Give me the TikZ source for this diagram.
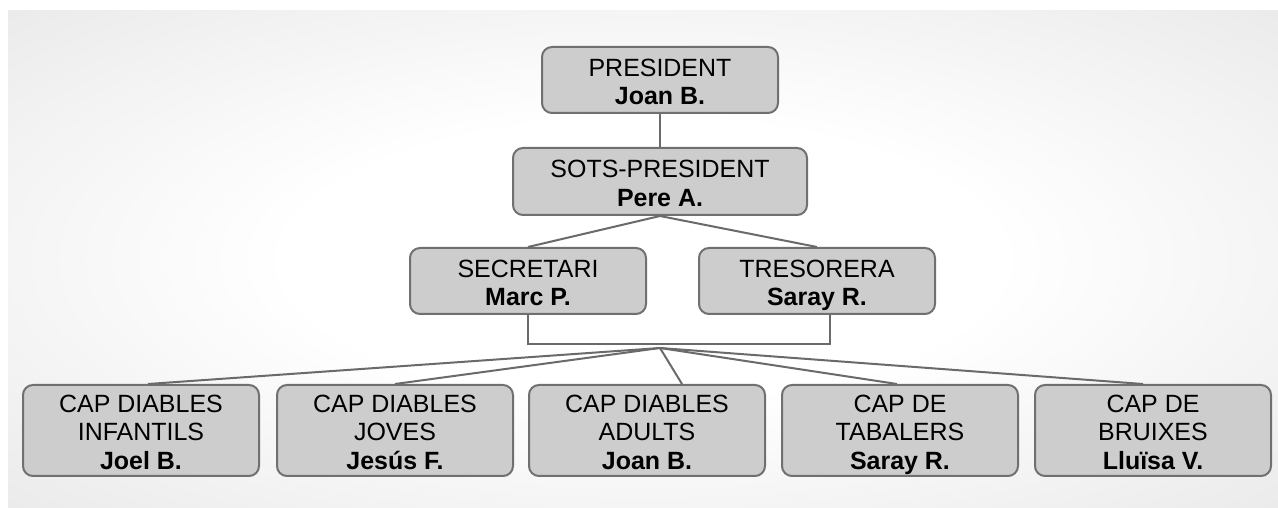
\documentclass[tikz,border=0pt]{standalone}
\usepackage{fontspec}
\setmainfont{Liberation Sans}
\definecolor{boxfill}{HTML}{CDCDCD}
\definecolor{boxline}{HTML}{707070}
\definecolor{wireline}{HTML}{6A6A6A}
\definecolor{bgmid}{HTML}{DDDDDD}
\definecolor{bgedge}{HTML}{D2D2D2}
\pgfdeclareradialshading{backglow}{\pgfpoint{0bp}{0bp}}{color(0bp)=(white); color(14bp)=(white); color(50bp)=(bgmid); color(72bp)=(bgedge)}
% invisible rule that lowers the first text line a little
\newcommand{\toprise}{\rule{0pt}{15.3pt}}

\begin{document}
\begin{tikzpicture} [scale=1.00]
  % make all path lines (box borders and wires) a little thicker
  \tikzstyle{every path}=[line width=0.04cm]
  \tikzstyle{post}=[rectangle, rounded corners=0.2cm, draw=boxline, fill=boxfill,
    minimum width=4.72cm, minimum height=1.32cm, inner sep=0pt, align=center,
    font=\fontsize{14.2}{16.3}\selectfont,
    execute at end node={\rule[-3.5pt]{0pt}{3.5pt}}]
  \tikzstyle{leader}=[post, minimum height=1.82cm]
  \tikzstyle{wire}=[draw=wireline]

  % page and shaded panel
  \fill[white] (0.00,0.00) rectangle (25.56,10.16);
  \shade[shading=backglow] (0.16,0.00) rectangle (25.56,9.94);

  % Draw the boxes
  \node [post] (pres) at (13.20, 8.56) {\toprise PRESIDENT\\\textbf{Joan B.}};
  \node [post, minimum width=5.88cm, minimum height=1.34cm] (sots) at (13.20, 6.53) {\toprise SOTS-PRESIDENT\\\textbf{Pere A.}};
  \node [post] (secr) at (10.56, 4.54) {\toprise SECRETARI\\\textbf{Marc P.}};
  \node [post] (tres) at (16.34, 4.54) {\toprise TRESORERA\\\textbf{Saray R.}};

  \node [leader] (infa) at ( 2.82, 1.55) {\toprise CAP DIABLES\\INFANTILS\\\textbf{Joel B.}};
  \node [leader] (jove) at ( 7.90, 1.55) {\toprise CAP DIABLES\\JOVES\\\textbf{Jesús F.}};
  \node [leader] (adul) at (12.94, 1.55) {\toprise CAP DIABLES\\ADULTS\\\textbf{Joan B.}};
  \node [leader] (taba) at (18.00, 1.55) {\toprise CAP DE\\TABALERS\\\textbf{Saray R.}};
  \node [leader] (brui) at (23.06, 1.55) {\toprise CAP DE\\BRUIXES\\\textbf{Lluïsa V.}};

  % wire points
  \coordinate (brk) at (16.60, 3.28);
  \coordinate (hub) at (13.20, 3.20);

  % upper connectors
  \draw [wire] (pres.south) -- (sots.north);
  \draw [wire] (sots.south) -- (secr.north);
  \draw [wire] (sots.south) -- (tres.north);
  \draw [wire] (secr.south) |- (brk) -- (brk |- tres.south);

  % fan to the team leaders
  \draw [wire] (hub) -- ([xshift= 0.14cm]infa.north);
  \draw [wire] (hub) -- (jove.north);
  \draw [wire] (hub) -- ([xshift= 0.70cm]adul.north);
  \draw [wire] (hub) -- ([xshift=-0.06cm]taba.north);
  \draw [wire] (hub) -- ([xshift=-0.20cm]brui.north);

\end{tikzpicture}
\end{document}
